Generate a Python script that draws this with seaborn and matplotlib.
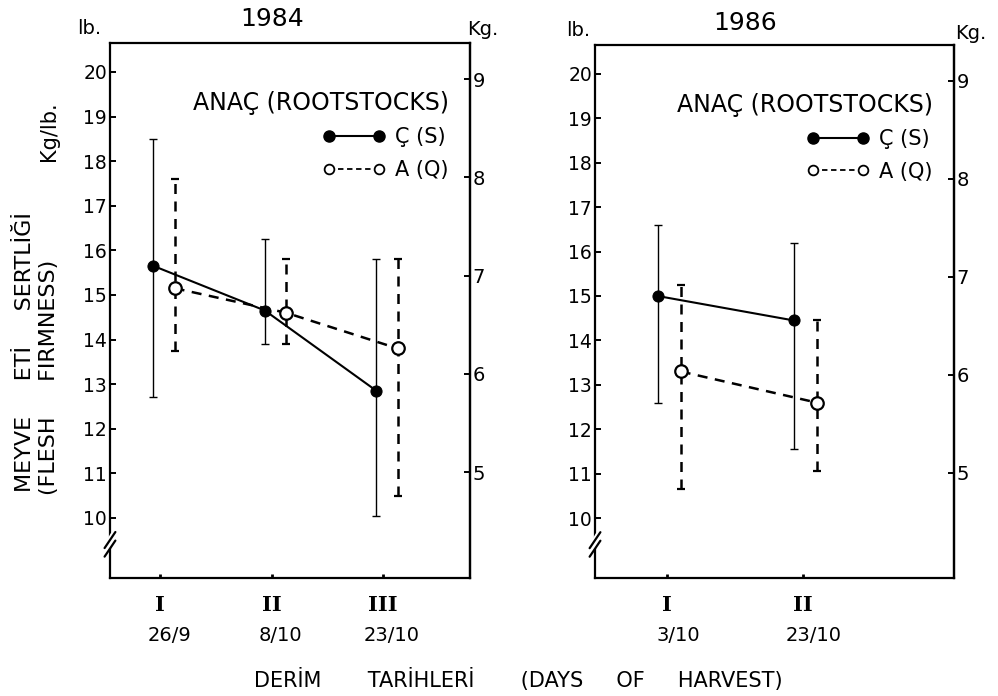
import numpy as np
import pandas as pd
import matplotlib
matplotlib.use("Agg")
import matplotlib.pyplot as plt
import matplotlib.transforms as mtransforms
from matplotlib.lines import Line2D
import seaborn as sns

# values (lb)
harvest_1984 = ["I", "II", "III"]
dates_1984 = ["26/9", "8/10", "23/10"]
s_1984 = [15.65, 14.65, 12.85]
s_1984_hi = [18.5, 16.25, 15.8]
s_1984_lo = [12.7, 13.9, 10.05]
q_1984 = [15.15, 14.6, 13.8]
q_1984_hi = [17.6, 15.8, 15.8]
q_1984_lo = [13.75, 13.9, 10.5]

harvest_1986 = ["I", "II"]
dates_1986 = ["3/10", "23/10"]
s_1986 = [15.0, 14.45]
s_1986_hi = [16.6, 16.2]
s_1986_lo = [12.6, 11.55]
q_1986 = [13.3, 12.6]
q_1986_hi = [15.25, 14.45]
q_1986_lo = [10.65, 11.05]

LB_PER_KG = 2.2046

sns.set_style("ticks")
plt.rcParams['font.family'] = ['DejaVu Sans']
plt.rcParams['axes.linewidth'] = 1.6
plt.rcParams['axes.edgecolor'] = 'black'
plt.rcParams['text.color'] = 'black'
plt.rcParams['axes.labelcolor'] = 'black'
plt.rcParams['xtick.color'] = 'black'
plt.rcParams['ytick.color'] = 'black'

ROMAN_FONT = dict(family='DejaVu Serif', weight='bold', size=15)


def draw_panel(ax, harvest, dates, s, s_lo, s_hi, q, q_lo, q_hi, xlim, offs):
    pos = np.arange(1, len(harvest) + 1)
    xs = pos + offs[0]
    xq = pos + offs[1]
    s, s_lo, s_hi = map(np.array, (s, s_lo, s_hi))
    q, q_lo, q_hi = map(np.array, (q, q_lo, q_hi))

    # range bars
    ax.errorbar(xs, s, yerr=[s - s_lo, s_hi - s], fmt='none', ecolor='black',
                elinewidth=1.0, capsize=3, capthick=1.0, zorder=2)
    eb = ax.errorbar(xq, q, yerr=[q - q_lo, q_hi - q], fmt='none', ecolor='black',
                     elinewidth=1.8, capsize=3, capthick=1.6, zorder=2)
    eb[2][0].set_linestyle((0, (4, 3)))

    df_s = pd.DataFrame({'x': xs, 'y': s})
    df_q = pd.DataFrame({'x': xq, 'y': q})
    sns.lineplot(data=df_s, x='x', y='y', ax=ax, color='black', lw=1.5,
                 marker='o', markersize=8, markerfacecolor='black',
                 markeredgecolor='black', zorder=4)
    sns.lineplot(data=df_q, x='x', y='y', ax=ax, color='black', lw=1.8,
                 linestyle=(0, (4, 3)), marker='o', markersize=9,
                 markerfacecolor='white', markeredgecolor='black',
                 markeredgewidth=1.6, zorder=4)

    ax.set_xlim(*xlim)
    ax.set_ylim(8.65, 20.65)
    ax.set_yticks(range(10, 21))
    ax.set_yticklabels([str(v) for v in range(10, 21)])
    ax.tick_params(axis='y', direction='in', length=4, width=1.4, labelsize=13.5, pad=2)
    ax.set_xticks(pos)
    ax.set_xticklabels(harvest, fontdict=ROMAN_FONT)
    ax.tick_params(axis='x', direction='in', length=3, width=2, pad=12)
    ax.set_xlabel('')
    ax.set_ylabel('')

    trans = mtransforms.blended_transform_factory(ax.transData, ax.transAxes)
    for p, d in zip(pos, dates):
        ax.text(p + 0.08, -0.107, d, transform=trans, ha='center', va='center', fontsize=14)

    sec = ax.secondary_yaxis('right', functions=(lambda lb: lb / LB_PER_KG,
                                                 lambda kg: kg * LB_PER_KG))
    sec.set_yticks([5, 6, 7, 8, 9])
    sec.tick_params(direction='in', length=4, width=1.4, labelsize=14, pad=2)
    sec.spines['right'].set_linewidth(1.6)

    # broken-axis mark on the left spine
    yb = 0.068
    ax.plot([-0.01, 0.01], [yb - 0.012, yb + 0.012], transform=ax.transAxes,
            color='white', lw=5, clip_on=False, zorder=5)
    for dy in (-0.008, 0.008):
        ax.plot([-0.015, 0.015], [yb - 0.02 + dy, yb + dy + 0.01], transform=ax.transAxes,
                color='black', lw=1.6, clip_on=False, zorder=6)

    handles = [
        Line2D([], [], color='black', lw=1.5, marker='o', markersize=8,
               markerfacecolor='black'),
        Line2D([], [], color='black', lw=1.3, linestyle=(0, (3, 2)), marker='o',
               markersize=7, markerfacecolor='white', markeredgewidth=1.3),
    ]
    ax.legend(handles, ['Ç (S)', 'A (Q)'], title='ANAÇ (ROOTSTOCKS)',
              loc='upper right', bbox_to_anchor=(0.97, 0.93), frameon=False,
              numpoints=2, handlelength=3.0, handletextpad=0.5,
              labelspacing=0.6, borderpad=0, fontsize=15,
              title_fontsize=17, alignment='right')
    return ax


fig = plt.figure(figsize=(9.98, 6.96), dpi=100)
ax1 = fig.add_axes([0.1102, 0.1695, 0.3607, 0.7687])
ax2 = fig.add_axes([0.5962, 0.1695, 0.3597, 0.7658])

draw_panel(ax1, harvest_1984, dates_1984, s_1984, s_1984_lo, s_1984_hi,
           q_1984, q_1984_lo, q_1984_hi, (0.55, 3.78), (-0.06, 0.13))
draw_panel(ax2, harvest_1986, dates_1986, s_1986, s_1986_lo, s_1986_hi,
           q_1986, q_1986_lo, q_1986_hi, (0.47, 3.11), (-0.07, 0.10))

ax1.text(0.45, 1.045, '1984', transform=ax1.transAxes, ha='center', va='center', fontsize=18)
ax2.text(0.418, 1.041, '1986', transform=ax2.transAxes, ha='center', va='center', fontsize=18)
ax1.text(-0.058, 1.028, 'lb.', transform=ax1.transAxes, ha='center', va='center', fontsize=14)
ax2.text(-0.047, 1.028, 'lb.', transform=ax2.transAxes, ha='center', va='center', fontsize=14)
ax1.text(1.036, 1.025, 'Kg.', transform=ax1.transAxes, ha='center', va='center', fontsize=14)
ax2.text(1.047, 1.022, 'Kg.', transform=ax2.transAxes, ha='center', va='center', fontsize=14)

fig.text(0.025, 0.494, 'MEYVE     ETİ     SERTLİĞİ', rotation=90, ha='center', va='center', fontsize=16)
fig.text(0.049, 0.458, '(FLESH     FIRMNESS)', rotation=90, ha='center', va='center', fontsize=16)
fig.text(0.049, 0.812, 'Kg/lb.', rotation=90, ha='center', va='center', fontsize=15)
fig.text(0.519, 0.023, 'DERİM       TARİHLERİ       (DAYS     OF     HARVEST)',
         ha='center', va='center', fontsize=15)

fig.savefig('out.png', dpi=100)
